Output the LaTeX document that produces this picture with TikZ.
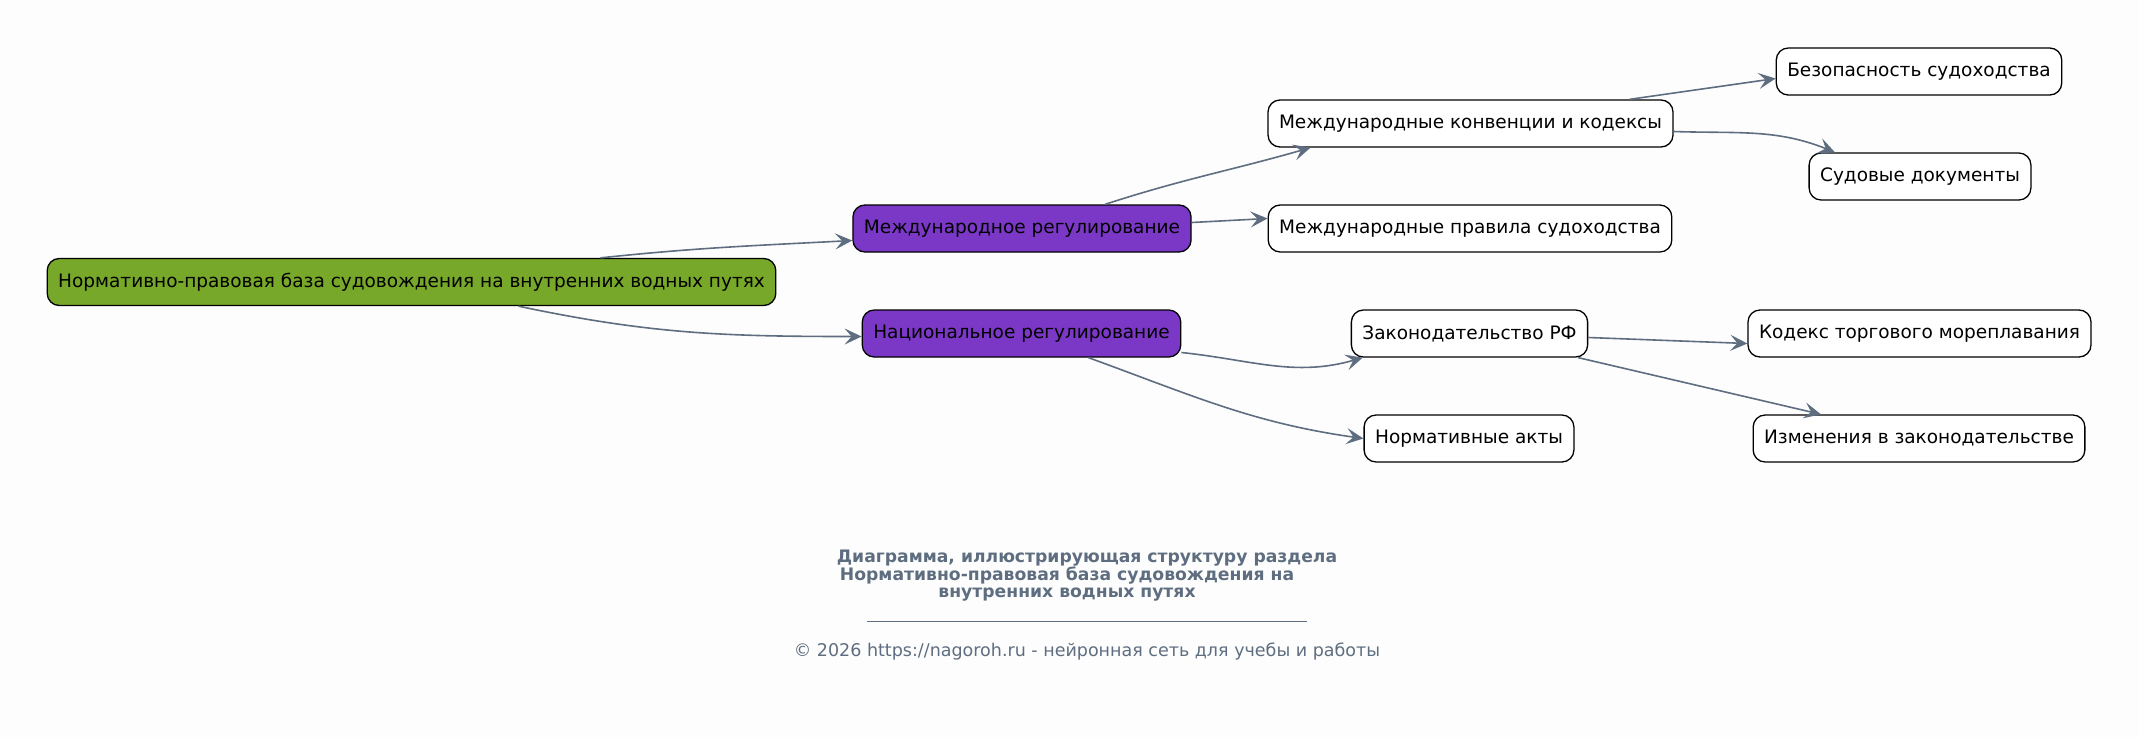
\documentclass[tikz,border=0pt]{standalone}
\usepackage{fontspec}
\setmainfont{DejaVu Sans}
\usetikzlibrary{arrows.meta}

\definecolor{rootgreen}{HTML}{77A82A}
\definecolor{regpurple}{HTML}{7B38C6}
\definecolor{slate}{HTML}{5E6E80}
\definecolor{paper}{HTML}{FDFDFD}

\tikzset{
  box/.style={draw=black, line width=1.3pt, rounded corners=12pt, fill=white,
    minimum height=47pt, inner xsep=11pt, font=\fontsize{18.5}{22}\selectfont},
  rootbox/.style={box, fill=rootgreen},
  regbox/.style={box, fill=regpurple},
  edge/.style={draw=slate, line width=1.6pt, -{Stealth[length=17pt,width=16pt,inset=7pt]}},
}

\begin{document}
\begin{tikzpicture}[x=1pt,y=-1pt]
\fill[paper] (0,0) rectangle (2139,737); % page size
\useasboundingbox (0,0) rectangle (2139,737);

% level 0 and 1
\node[rootbox] (root) at (411.5,282) {Нормативно-правовая база судовождения на внутренних водных путях};
\node[regbox] (intl) at (1022,228.5) {Международное регулирование};
\node[regbox] (natl) at (1021.5,333.5) {Национальное регулирование};

% level 2
\node[box] (konv) at (1470.5,123.5) {Международные конвенции и кодексы};
\node[box] (prav) at (1470,228.5) {Международные правила судоходства};
\node[box] (zakon) at (1469.5,333.5) {Законодательство РФ};
\node[box] (akty) at (1469,438.5) {Нормативные акты};

% level 3
\node[box] (bez) at (1919,71.5) {Безопасность судоходства};
\node[box] (sud) at (1920,176.5) {Судовые документы};
\node[box] (kodeks) at (1919.5,333.5) {Кодекс торгового мореплавания};
\node[box] (izm) at (1919,438.5) {Изменения в законодательстве};

% connectors
\draw[edge] ([xshift=189pt]root.north) to[out=6,in=183] ([yshift=-12pt]intl.west);
\draw[edge] ([xshift=107pt]root.south) to[out=-12,in=180] ([yshift=-3pt]natl.west);
\draw[edge] ([xshift=83pt]intl.north) to[out=18,in=196] ([xshift=-160pt]konv.south);
\draw[edge] ([yshift=6pt]intl.east) -- ([yshift=10pt]prav.west);
\draw[edge] ([yshift=-19pt]natl.east) to[out=-6,in=196] ([xshift=12pt]zakon.south west);
\draw[edge] ([xshift=67pt]natl.south) to[out=-20,in=172] (akty.west);
\draw[edge] ([xshift=159pt]konv.north) -- ([yshift=-7pt]bez.west);
\draw[edge] ([yshift=-8pt]konv.east) to[out=-2,in=158] ([xshift=-85pt]sud.north);
\draw[edge] ([yshift=-4pt]zakon.east) -- ([yshift=-10pt]kodeks.west);
\draw[edge] ([xshift=-10pt]zakon.south east) -- ([xshift=-98pt]izm.north);

% caption
\node[text=slate, align=center, font=\bfseries\fontsize{17.2}{17.5}\selectfont] (title) at (1087,576)
  {Диаграмма, иллюстрирующая структуру раздела\\
   Нормативно-правовая база судовождения на\rule{40pt}{0pt}\\
   внутренних водных путях\rule{40pt}{0pt}};
\coordinate (ruleL) at (867,621);
\coordinate (ruleR) at (1307,621);
\draw[slate, line width=1pt] (ruleL) -- (ruleR);
\node[text=slate, font=\fontsize{17.5}{19}\selectfont] (copy) at (1087,652)
  {© 2026 https://nagoroh.ru - нейронная сеть для учебы и работы};
\end{tikzpicture}
\end{document}
